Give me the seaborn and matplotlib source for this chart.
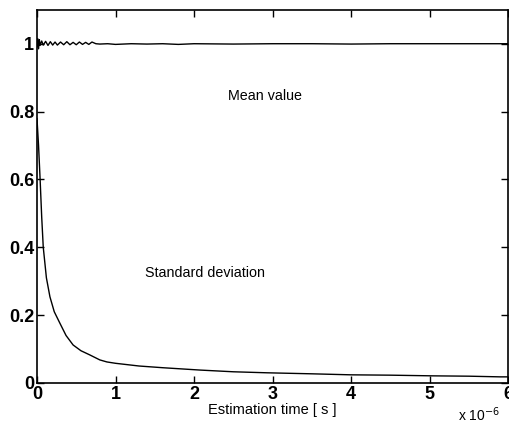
import numpy as np
import pandas as pd
import matplotlib
matplotlib.use("Agg")
import matplotlib.pyplot as plt
import seaborn as sns

# time in microseconds (axis shown x 10^-6 s)
t_mean = [0, 0.01, 0.02, 0.03, 0.04, 0.06, 0.08, 0.11, 0.14, 0.17, 0.2, 0.23, 0.26, 0.3,
          0.34, 0.38, 0.42, 0.46, 0.5, 0.54, 0.58, 0.62, 0.66, 0.7, 0.75, 0.8, 0.9, 1.0,
          1.2, 1.4, 1.6, 1.8, 2.0, 2.5, 3.0, 3.5, 4.0, 4.5, 5.0, 5.5, 6.0]
mean_val = [0.99, 1.015, 0.985, 1.012, 0.995, 1.008, 0.996, 1.007, 0.995, 1.006, 0.996,
            1.005, 0.996, 1.005, 0.997, 1.006, 0.997, 1.004, 0.997, 1.005, 0.998, 1.004,
            0.998, 1.005, 1.0, 0.999, 1.0, 0.998, 1.0, 0.999, 1.0, 0.998, 1.0, 0.999,
            1.0, 1.0, 0.999, 1.0, 1.0, 1.0, 1.0]

t_std = [0, 0.02, 0.04, 0.06, 0.08, 0.12, 0.165, 0.22, 0.29, 0.37, 0.46, 0.56, 0.67,
         0.8, 0.89, 1.0, 1.3, 1.6, 2.08, 2.5, 2.93, 3.5, 4.0, 4.5, 5.04, 5.5, 5.9, 6.0]
std_val = [0.78, 0.70, 0.60, 0.49, 0.40, 0.31, 0.254, 0.21, 0.177, 0.14, 0.112, 0.095,
           0.083, 0.068, 0.062, 0.058, 0.05, 0.045, 0.038, 0.033, 0.03, 0.027, 0.024,
           0.023, 0.021, 0.02, 0.018, 0.018]

df_mean = pd.DataFrame({"t": t_mean, "v": mean_val})
df_std = pd.DataFrame({"t": t_std, "v": std_val})

sns.set_style("ticks")
plt.rcParams['font.family'] = ['Liberation Sans', 'DejaVu Sans']
plt.rcParams['text.color'] = 'black'
plt.rcParams['axes.labelcolor'] = 'black'
plt.rcParams['xtick.color'] = 'black'
plt.rcParams['ytick.color'] = 'black'
plt.rcParams['axes.edgecolor'] = 'black'

fig = plt.figure(figsize=(5.1, 4.26), dpi=100)
ax = fig.add_axes([0.0725, 0.101, 0.924, 0.876])

sns.lineplot(data=df_mean, x="t", y="v", color="black", lw=1.0, ax=ax)
sns.lineplot(data=df_std, x="t", y="v", color="black", lw=1.0, ax=ax)

ax.set_xlim(0, 6)
ax.set_ylim(0, 1.1)
ax.set_xticks([0, 1, 2, 3, 4, 5, 6])
ax.set_xticklabels(["0", "1", "2", "3", "4", "5", "6"])
ax.set_yticks([0, 0.2, 0.4, 0.6, 0.8, 1.0])
ax.set_yticklabels(["0", "0.2", "0.4", "0.6", "0.8", "1"])
ax.tick_params(direction="in", top=True, right=True, length=5, width=1, labelsize=13, pad=2)
for lab in ax.get_xticklabels() + ax.get_yticklabels():
    lab.set_fontweight("bold")
for s in ax.spines.values():
    s.set_linewidth(1.2)
    s.set_visible(True)

ax.set_xlabel("Estimation time [ s ]", fontsize=10.5, labelpad=0)
ax.set_ylabel("")
ax.text(2.9, 0.847, "Mean value", fontsize=10.3, ha="center", va="center")
ax.text(2.14, 0.325, "Standard deviation", fontsize=10.3, ha="center", va="center")
fig.text(0.94, 0.005, r"x 10$^{-6}$", fontsize=10, ha="center", va="bottom")

fig.savefig("out.png", dpi=100)
